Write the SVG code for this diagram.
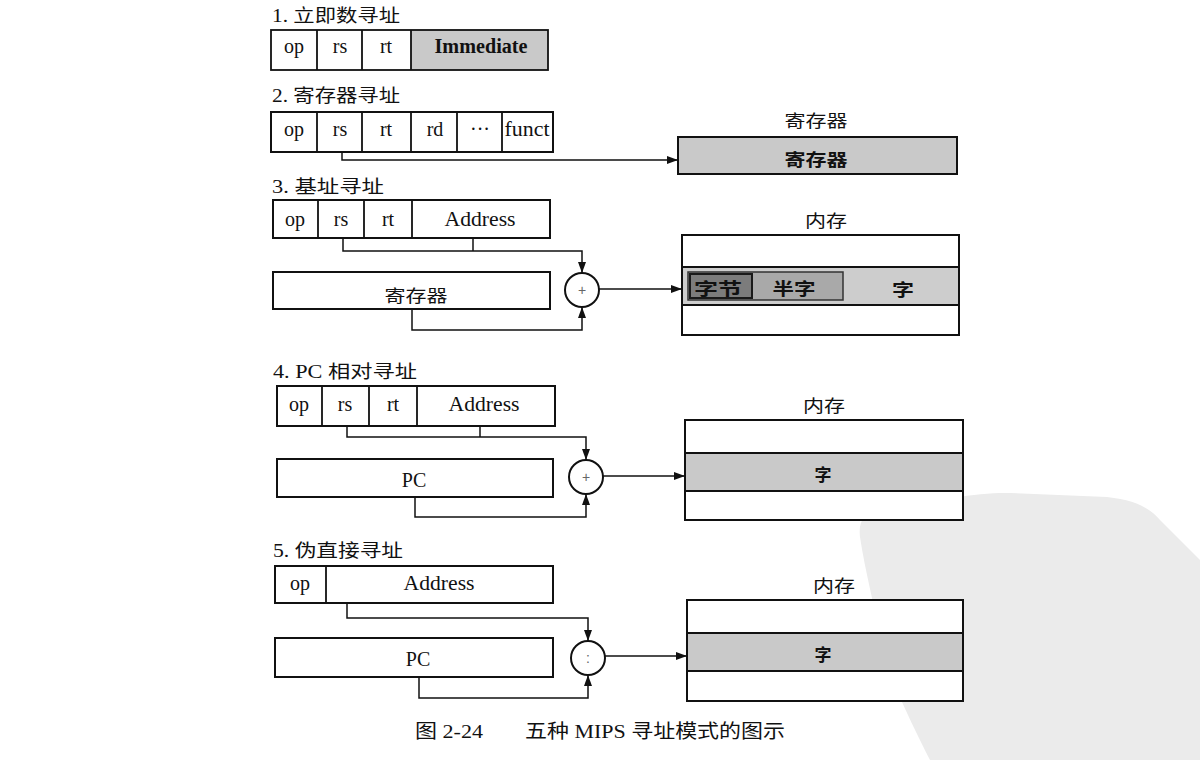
<svg xmlns="http://www.w3.org/2000/svg" width="1200" height="760" viewBox="0 0 1200 760">
<style>
.box{fill:#fff;stroke:#111;stroke-width:2}
.gray{fill:#c9c9c9;stroke:#111;stroke-width:2}
.cell{fill:none;stroke:#111;stroke-width:1.8}
.wire{fill:none;stroke:#111;stroke-width:1.5}
.lat{font-family:"Liberation Serif","Times New Roman",serif;font-size:20px;fill:#111;text-anchor:middle}
.ttl{font-family:"Liberation Serif","Noto Sans CJK SC",serif;font-size:18px;fill:#111}
.cjk{font-family:"Noto Sans CJK SC",sans-serif;font-size:17px;fill:#111;text-anchor:middle}
.bold{font-weight:700}
.op{font-family:"Liberation Sans",sans-serif;font-size:14px;fill:#666;text-anchor:middle}
.cap{font-family:"Liberation Serif","Noto Sans CJK SC",serif;font-size:19px;fill:#111}
</style>
<defs>
<marker id="arr" markerWidth="11" markerHeight="8" refX="10" refY="4" orient="auto" markerUnits="userSpaceOnUse">
<path d="M0,0 L11,4 L0,8 z" fill="#111"/>
</marker>
</defs>
<rect width="1200" height="760" fill="#fff"/>
<path d="M860,537 C858,520 865,512 880,512 C930,500 980,492 1010,493 L1107,497 C1135,500 1150,508 1160,520 L1200,560 L1200,760 L930,760 C910,720 890,680 883,647 C875,610 865,570 860,537 Z" fill="#ebebeb"/>

<g id="mode1">
<text class="ttl" x="272" y="22" textLength="128" lengthAdjust="spacingAndGlyphs">1. 立即数寻址</text>
<rect x="411" y="30" width="137" height="40" fill="#c9c9c9"/>
<rect class="cell" x="271" y="30" width="277" height="40"/>
<path class="cell" d="M317,30V70M362,30V70M411,30V70"/>
<text class="lat" x="294" y="53">op</text>
<text class="lat" x="340" y="53">rs</text>
<text class="lat" x="386" y="53">rt</text>
<text class="lat bold" x="481" y="53" textLength="93" lengthAdjust="spacingAndGlyphs">Immediate</text>
</g>

<g id="mode2">
<text class="ttl" x="272" y="102" textLength="128" lengthAdjust="spacingAndGlyphs">2. 寄存器寻址</text>
<rect class="box" x="271" y="112" width="282" height="40"/>
<path class="cell" d="M317,112V152M362,112V152M411,112V152M457,112V152M502,112V152"/>
<text class="lat" x="294" y="136">op</text>
<text class="lat" x="340" y="136">rs</text>
<text class="lat" x="386" y="136">rt</text>
<text class="lat" x="435" y="136">rd</text>
<text class="lat" x="480" y="136">···</text>
<text class="lat" x="527" y="136" textLength="45" lengthAdjust="spacingAndGlyphs">funct</text>
</g>

<g id="register2">
<text class="cjk" x="816" y="127" textLength="63" lengthAdjust="spacingAndGlyphs">寄存器</text>
<rect class="gray" x="678" y="137" width="279" height="37"/>
<text class="cjk bold" x="816" y="166" textLength="63" lengthAdjust="spacingAndGlyphs">寄存器</text>
</g>

<g id="mode3">
<text class="ttl" x="272" y="193" textLength="112" lengthAdjust="spacingAndGlyphs">3. 基址寻址</text>
<rect class="box" x="273" y="200" width="277" height="38"/>
<path class="cell" d="M318,200V238M364,200V238M412,200V238"/>
<text class="lat" x="295" y="226">op</text>
<text class="lat" x="341" y="226">rs</text>
<text class="lat" x="388" y="226">rt</text>
<text class="lat" x="480" y="226" textLength="71" lengthAdjust="spacingAndGlyphs">Address</text>
</g>
<g id="reg3">
<rect class="box" x="273" y="272" width="277" height="37"/>
<text class="cjk" x="416" y="302" textLength="63" lengthAdjust="spacingAndGlyphs">寄存器</text>
</g>
<g id="add3">
<circle class="box" cx="582" cy="290" r="17"/>
<text class="op" x="582" y="295">+</text>
</g>
<g id="mem3">
<text class="cjk" x="826" y="227" textLength="42" lengthAdjust="spacingAndGlyphs">内存</text>
<rect class="box" x="682" y="235" width="277" height="100"/>
<rect x="682" y="267" width="277" height="38" fill="#cdcdcd" stroke="#111" stroke-width="2"/>
<rect x="688" y="272" width="155" height="28" fill="#a9a9a9" stroke="#333" stroke-width="1.5"/>
<rect x="690" y="274" width="62" height="24" fill="#7c7c7c" stroke="#1a1a1a" stroke-width="2"/>
<text class="cjk bold" x="718" y="295" textLength="48" lengthAdjust="spacingAndGlyphs">字节</text>
<text class="cjk bold" x="794" y="295" textLength="43" lengthAdjust="spacingAndGlyphs">半字</text>
<text class="cjk bold" x="903" y="296" textLength="22" lengthAdjust="spacingAndGlyphs">字</text>
</g>

<g id="mode4">
<text class="ttl" x="273" y="378" textLength="144" lengthAdjust="spacingAndGlyphs">4. PC 相对寻址</text>
<rect class="box" x="277" y="386" width="278" height="40"/>
<path class="cell" d="M322,386V426M369,386V426M417,386V426"/>
<text class="lat" x="299" y="411">op</text>
<text class="lat" x="345" y="411">rs</text>
<text class="lat" x="393" y="411">rt</text>
<text class="lat" x="484" y="411" textLength="71" lengthAdjust="spacingAndGlyphs">Address</text>
</g>
<g id="pc4">
<rect class="box" x="277" y="459" width="276" height="38"/>
<text class="lat" x="414" y="487">PC</text>
</g>
<g id="add4">
<circle class="box" cx="586" cy="477" r="17"/>
<text class="op" x="586" y="482">+</text>
</g>
<g id="mem4">
<text class="cjk" x="824" y="412" textLength="42" lengthAdjust="spacingAndGlyphs">内存</text>
<rect class="box" x="685" y="420" width="278" height="100"/>
<rect class="gray" x="685" y="453" width="278" height="38"/>
<text class="cjk bold" x="823" y="481">字</text>
</g>

<g id="mode5">
<text class="ttl" x="273" y="557" textLength="130" lengthAdjust="spacingAndGlyphs">5. 伪直接寻址</text>
<rect class="box" x="275" y="566" width="278" height="37"/>
<path class="cell" d="M326,566V603"/>
<text class="lat" x="300" y="590">op</text>
<text class="lat" x="439" y="590" textLength="71" lengthAdjust="spacingAndGlyphs">Address</text>
</g>
<g id="pc5">
<rect class="box" x="275" y="638" width="278" height="39"/>
<text class="lat" x="418" y="666">PC</text>
</g>
<g id="concat5">
<circle class="box" cx="588" cy="658" r="17"/>
<text class="op" x="588" y="663">:</text>
</g>
<g id="mem5">
<text class="cjk" x="834" y="592" textLength="42" lengthAdjust="spacingAndGlyphs">内存</text>
<rect class="box" x="687" y="600" width="276" height="101"/>
<rect class="gray" x="687" y="633" width="276" height="38"/>
<text class="cjk bold" x="823" y="661">字</text>
</g>

<g id="connectors">
<path class="wire" d="M342,152V160H677" marker-end="url(#arr)"/>
<path class="wire" d="M343,238V251H582V272" marker-end="url(#arr)"/>
<path class="wire" d="M473,238V251"/>
<path class="wire" d="M412,309V330H582V308" marker-end="url(#arr)"/>
<path class="wire" d="M599,289H681" marker-end="url(#arr)"/>
<path class="wire" d="M347,426V437H586V459" marker-end="url(#arr)"/>
<path class="wire" d="M480,426V437"/>
<path class="wire" d="M415,497V517H586V495" marker-end="url(#arr)"/>
<path class="wire" d="M603,476H684" marker-end="url(#arr)"/>
<path class="wire" d="M347,603V618H588V640" marker-end="url(#arr)"/>
<path class="wire" d="M419,677V698H588V676" marker-end="url(#arr)"/>
<path class="wire" d="M605,656H686" marker-end="url(#arr)"/>
</g>

<text class="cap"><tspan x="415" y="738" textLength="68" lengthAdjust="spacingAndGlyphs">图 2-24</tspan><tspan x="525" y="738" textLength="260" lengthAdjust="spacingAndGlyphs">五种 MIPS 寻址模式的图示</tspan></text>
</svg>
